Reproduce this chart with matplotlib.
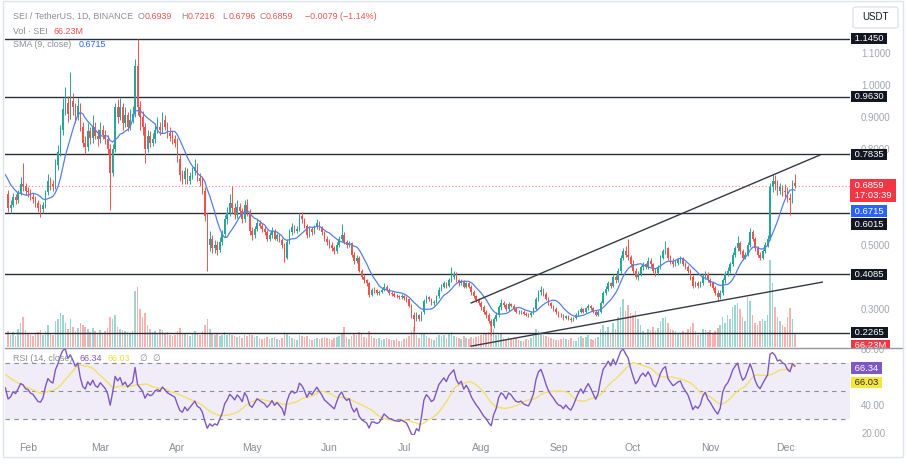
import numpy as np
import pandas as pd
import matplotlib
matplotlib.use("Agg")
import matplotlib.pyplot as plt
import matplotlib.dates as mdates
from matplotlib.patches import Rectangle, FancyBboxPatch
from matplotlib.lines import Line2D
from matplotlib.transforms import Bbox

plt.rcParams['font.family'] = ['Liberation Sans', 'DejaVu Sans']

# ------------------------------------------------------------------ data
history_start = '2023-12-27'
closes_history = [0.72, 0.75, 0.80, 0.84, 0.82, 0.86, 0.70, 0.72, 0.69, 0.66, 0.62, 0.58, 0.62, 0.66,
                  0.68, 0.71, 0.72, 0.74, 0.73, 0.75, 0.76, 0.74, 0.72, 0.73, 0.70, 0.71, 0.69, 0.67]

chart_start = '2024-01-24'
first_open = 0.660

close_jan = [0.615, 0.625, 0.650, 0.640, 0.662, 0.690, 0.685, 0.668]
high_jan = [0.672, 0.640, 0.662, 0.658, 0.672, 0.712, 0.756, 0.695]
low_jan = [0.602, 0.600, 0.618, 0.628, 0.632, 0.655, 0.668, 0.655]
vol_jan = [80, 60, 75, 55, 90, 120, 150, 85]

close_feb = [0.665, 0.650, 0.645, 0.630, 0.615, 0.612, 0.625, 0.665, 0.700, 0.690, 0.685, 0.750, 0.790, 0.860,
             0.925, 0.945, 0.910, 0.950, 0.930, 0.905, 0.935, 0.870, 0.820, 0.805, 0.855, 0.835, 0.870, 0.840, 0.830]
high_feb = [0.682, 0.675, 0.662, 0.652, 0.640, 0.628, 0.635, 0.672, 0.722, 0.712, 0.702, 0.770, 0.812, 0.875,
            0.960, 0.995, 0.965, 1.040, 0.975, 0.945, 0.960, 0.945, 0.885, 0.840, 0.880, 0.870, 0.905, 0.885, 0.862]
low_feb = [0.650, 0.640, 0.632, 0.618, 0.602, 0.588, 0.600, 0.615, 0.655, 0.672, 0.668, 0.675, 0.735, 0.778,
           0.845, 0.905, 0.885, 0.895, 0.905, 0.880, 0.890, 0.855, 0.805, 0.785, 0.795, 0.815, 0.820, 0.830, 0.810]
vol_feb = [70, 60, 55, 65, 75, 85, 60, 80, 110, 70, 60, 130, 140, 170, 160, 120, 90, 140, 100, 80, 95, 120,
           110, 100, 90, 75, 95, 80, 70]

close_mar = [0.860, 0.845, 0.830, 0.800, 0.725, 0.800, 0.930, 0.900, 0.930, 0.880, 0.905, 0.870, 0.890, 0.910,
             1.060, 0.930, 0.900, 0.870, 0.800, 0.840, 0.820, 0.830, 0.860, 0.870, 0.860, 0.890, 0.870, 0.850,
             0.840, 0.830, 0.820]
high_mar = [0.885, 0.875, 0.860, 0.845, 0.815, 0.815, 0.945, 0.955, 0.960, 0.945, 0.930, 0.915, 0.925, 0.935,
            1.080, 1.145, 0.950, 0.920, 0.880, 0.860, 0.855, 0.850, 0.875, 0.900, 0.885, 0.915, 0.905, 0.885,
            0.870, 0.855, 0.845]
low_mar = [0.820, 0.830, 0.815, 0.785, 0.610, 0.715, 0.790, 0.880, 0.890, 0.860, 0.870, 0.855, 0.860, 0.880,
           0.900, 0.905, 0.860, 0.845, 0.756, 0.790, 0.805, 0.810, 0.820, 0.850, 0.845, 0.850, 0.860, 0.835,
           0.825, 0.815, 0.805]
vol_mar = [85, 70, 80, 95, 150, 140, 160, 100, 90, 85, 80, 75, 70, 80, 280, 300, 190, 150, 170, 110, 90, 75,
           80, 70, 90, 85, 70, 75, 60, 55, 60]

close_apr = [0.770, 0.720, 0.705, 0.730, 0.700, 0.715, 0.730, 0.745, 0.710, 0.700, 0.670, 0.590, 0.500, 0.520,
             0.490, 0.500, 0.485, 0.510, 0.535, 0.580, 0.600, 0.630, 0.615, 0.595, 0.620, 0.605, 0.580, 0.625,
             0.600, 0.545]
high_apr = [0.835, 0.785, 0.735, 0.745, 0.742, 0.728, 0.745, 0.768, 0.755, 0.725, 0.712, 0.680, 0.600, 0.545,
            0.530, 0.515, 0.512, 0.525, 0.548, 0.595, 0.620, 0.660, 0.685, 0.632, 0.640, 0.630, 0.615, 0.640,
            0.645, 0.612]
low_apr = [0.760, 0.700, 0.690, 0.690, 0.690, 0.692, 0.705, 0.718, 0.700, 0.685, 0.660, 0.575, 0.420, 0.480,
           0.475, 0.475, 0.470, 0.478, 0.500, 0.525, 0.565, 0.590, 0.600, 0.580, 0.585, 0.595, 0.570, 0.572,
           0.590, 0.530]
vol_apr = [80, 95, 70, 65, 60, 55, 70, 80, 65, 60, 80, 110, 140, 90, 70, 60, 65, 55, 60, 75, 60, 65, 60, 55,
           50, 55, 45, 60, 55, 70]

close_may = [0.530, 0.550, 0.570, 0.560, 0.550, 0.540, 0.520, 0.530, 0.545, 0.520, 0.530, 0.515, 0.500, 0.460,
             0.510, 0.540, 0.555, 0.545, 0.550, 0.590, 0.580, 0.560, 0.530, 0.550, 0.540, 0.555, 0.570, 0.555,
             0.540, 0.520, 0.510]
high_may = [0.555, 0.560, 0.582, 0.578, 0.568, 0.558, 0.548, 0.540, 0.555, 0.550, 0.538, 0.535, 0.522, 0.505,
            0.520, 0.550, 0.568, 0.562, 0.560, 0.600, 0.602, 0.585, 0.565, 0.558, 0.555, 0.562, 0.582, 0.575,
            0.560, 0.545, 0.528]
low_may = [0.515, 0.522, 0.545, 0.552, 0.542, 0.532, 0.512, 0.512, 0.522, 0.515, 0.512, 0.508, 0.492, 0.448,
           0.455, 0.502, 0.530, 0.538, 0.538, 0.545, 0.570, 0.552, 0.522, 0.525, 0.532, 0.535, 0.550, 0.548,
           0.532, 0.512, 0.500]
vol_may = [60, 50, 55, 45, 40, 45, 50, 40, 45, 50, 40, 35, 45, 75, 70, 55, 45, 40, 35, 60, 55, 50, 55, 40,
           35, 40, 45, 40, 45, 50, 45]

close_jun = [0.500, 0.490, 0.480, 0.500, 0.520, 0.530, 0.510, 0.500, 0.505, 0.470, 0.450, 0.460, 0.420, 0.400,
             0.390, 0.380, 0.345, 0.360, 0.358, 0.350, 0.352, 0.360, 0.370, 0.360, 0.350, 0.348, 0.342, 0.340,
             0.338, 0.340]
high_jun = [0.518, 0.508, 0.498, 0.508, 0.528, 0.565, 0.540, 0.515, 0.512, 0.510, 0.478, 0.468, 0.465, 0.425,
            0.408, 0.395, 0.385, 0.365, 0.368, 0.362, 0.358, 0.365, 0.380, 0.375, 0.365, 0.356, 0.352, 0.348,
            0.345, 0.346]
low_jun = [0.492, 0.482, 0.472, 0.475, 0.495, 0.512, 0.502, 0.492, 0.495, 0.462, 0.442, 0.445, 0.415, 0.395,
           0.382, 0.372, 0.338, 0.340, 0.350, 0.344, 0.345, 0.350, 0.356, 0.355, 0.345, 0.342, 0.336, 0.334,
           0.332, 0.332]
vol_jun = [40, 35, 45, 50, 55, 65, 100, 50, 40, 55, 70, 60, 75, 70, 50, 45, 80, 55, 45, 40, 45, 35, 40, 45,
           40, 35, 35, 40, 30, 30]

close_jul = [0.335, 0.330, 0.310, 0.280, 0.270, 0.280, 0.268, 0.290, 0.325, 0.338, 0.330, 0.318, 0.322, 0.340,
             0.360, 0.370, 0.380, 0.372, 0.390, 0.400, 0.410, 0.390, 0.380, 0.388, 0.370, 0.380, 0.370, 0.352,
             0.340, 0.328, 0.318]
high_jul = [0.345, 0.340, 0.335, 0.315, 0.290, 0.292, 0.285, 0.295, 0.330, 0.345, 0.342, 0.335, 0.328, 0.345,
            0.368, 0.378, 0.388, 0.385, 0.398, 0.430, 0.420, 0.415, 0.395, 0.395, 0.392, 0.385, 0.385, 0.375,
            0.358, 0.345, 0.335]
low_jul = [0.328, 0.322, 0.305, 0.272, 0.230, 0.262, 0.262, 0.262, 0.285, 0.318, 0.325, 0.312, 0.312, 0.318,
           0.335, 0.355, 0.365, 0.365, 0.368, 0.385, 0.395, 0.385, 0.372, 0.375, 0.365, 0.365, 0.365, 0.345,
           0.335, 0.322, 0.312]
vol_jul = [40, 45, 55, 80, 100, 60, 45, 65, 70, 55, 45, 40, 35, 50, 60, 55, 60, 45, 65, 75, 55, 50, 45, 40,
           55, 45, 40, 50, 45, 50, 55]

close_aug = [0.305, 0.290, 0.280, 0.262, 0.248, 0.268, 0.280, 0.305, 0.318, 0.312, 0.300, 0.315, 0.310, 0.300,
             0.292, 0.290, 0.292, 0.285, 0.282, 0.280, 0.288, 0.300, 0.330, 0.352, 0.360, 0.348, 0.332, 0.318,
             0.308, 0.300, 0.290]
high_aug = [0.325, 0.312, 0.298, 0.288, 0.270, 0.275, 0.292, 0.312, 0.330, 0.325, 0.318, 0.322, 0.320, 0.315,
            0.305, 0.298, 0.298, 0.296, 0.290, 0.288, 0.295, 0.305, 0.338, 0.360, 0.372, 0.365, 0.352, 0.338,
            0.322, 0.312, 0.305]
low_aug = [0.298, 0.285, 0.272, 0.255, 0.220, 0.242, 0.262, 0.275, 0.298, 0.305, 0.295, 0.295, 0.305, 0.295,
           0.288, 0.284, 0.285, 0.280, 0.277, 0.275, 0.276, 0.285, 0.296, 0.325, 0.345, 0.342, 0.328, 0.312,
           0.302, 0.295, 0.285]
vol_aug = [60, 70, 65, 75, 110, 90, 60, 70, 65, 45, 40, 50, 45, 40, 45, 35, 30, 30, 40, 35, 45, 55, 90, 80,
           65, 60, 55, 50, 45, 40, 35]

close_sep = [0.282, 0.280, 0.272, 0.278, 0.270, 0.265, 0.272, 0.282, 0.292, 0.300, 0.292, 0.302, 0.310, 0.302,
             0.292, 0.282, 0.292, 0.320, 0.350, 0.362, 0.380, 0.372, 0.400, 0.390, 0.420, 0.460, 0.480, 0.470,
             0.462, 0.440]
high_sep = [0.295, 0.288, 0.284, 0.282, 0.282, 0.275, 0.276, 0.286, 0.296, 0.305, 0.304, 0.306, 0.315, 0.314,
            0.305, 0.296, 0.296, 0.325, 0.356, 0.372, 0.386, 0.385, 0.408, 0.405, 0.428, 0.468, 0.492, 0.498,
            0.520, 0.468]
low_sep = [0.276, 0.274, 0.266, 0.268, 0.265, 0.260, 0.262, 0.268, 0.278, 0.288, 0.288, 0.288, 0.298, 0.298,
           0.288, 0.278, 0.278, 0.288, 0.315, 0.345, 0.355, 0.365, 0.368, 0.382, 0.385, 0.412, 0.452, 0.462,
           0.452, 0.432]
vol_sep = [35, 40, 45, 40, 35, 45, 30, 30, 50, 55, 45, 50, 60, 40, 35, 45, 50, 90, 110, 80, 100, 70, 120, 90,
           150, 200, 240, 180, 210, 170]

close_oct = [0.420, 0.400, 0.410, 0.430, 0.440, 0.432, 0.450, 0.440, 0.420, 0.412, 0.430, 0.460, 0.480, 0.490,
             0.460, 0.450, 0.440, 0.445, 0.452, 0.455, 0.440, 0.430, 0.420, 0.400, 0.372, 0.380, 0.372, 0.380,
             0.400, 0.410, 0.390]
high_oct = [0.452, 0.428, 0.418, 0.438, 0.448, 0.445, 0.462, 0.458, 0.445, 0.428, 0.438, 0.468, 0.488, 0.512,
            0.495, 0.468, 0.458, 0.452, 0.460, 0.465, 0.462, 0.448, 0.438, 0.425, 0.405, 0.388, 0.386, 0.388,
            0.408, 0.418, 0.415]
low_oct = [0.412, 0.395, 0.392, 0.402, 0.422, 0.425, 0.425, 0.432, 0.412, 0.402, 0.405, 0.425, 0.455, 0.472,
           0.452, 0.442, 0.432, 0.435, 0.438, 0.445, 0.435, 0.425, 0.412, 0.392, 0.365, 0.368, 0.365, 0.368,
           0.375, 0.395, 0.384]
vol_oct = [160, 180, 140, 110, 80, 70, 90, 85, 100, 80, 95, 130, 145, 150, 120, 90, 85, 80, 70, 65, 80, 75,
           90, 100, 120, 80, 60, 70, 90, 85, 75]

close_nov = [0.380, 0.365, 0.350, 0.338, 0.350, 0.390, 0.410, 0.420, 0.440, 0.470, 0.490, 0.505, 0.480, 0.460,
             0.470, 0.500, 0.540, 0.520, 0.490, 0.470, 0.460, 0.480, 0.500, 0.520, 0.680, 0.700, 0.690, 0.670,
             0.680, 0.670]
high_nov = [0.398, 0.388, 0.372, 0.358, 0.358, 0.398, 0.418, 0.430, 0.448, 0.478, 0.498, 0.528, 0.512, 0.488,
            0.478, 0.508, 0.552, 0.548, 0.525, 0.498, 0.478, 0.488, 0.508, 0.530, 0.695, 0.722, 0.718, 0.702,
            0.695, 0.688]
low_nov = [0.372, 0.358, 0.345, 0.325, 0.332, 0.345, 0.382, 0.402, 0.412, 0.435, 0.462, 0.482, 0.472, 0.452,
           0.455, 0.465, 0.495, 0.512, 0.482, 0.462, 0.452, 0.455, 0.475, 0.495, 0.515, 0.665, 0.672, 0.655,
           0.660, 0.652]
vol_nov = [85, 70, 80, 95, 110, 150, 120, 160, 140, 200, 210, 220, 190, 150, 130, 250, 230, 160, 120, 110,
           130, 140, 130, 160, 435, 320, 200, 150, 130, 110]

close_dec = [0.665, 0.648, 0.640, 0.6939, 0.6859]
high_dec = [0.690, 0.680, 0.662, 0.702, 0.7216]
low_dec = [0.650, 0.635, 0.595, 0.632, 0.6796]
vol_dec = [100, 150, 195, 140, 66.23]

levels = [1.1450, 0.9630, 0.7835, 0.6015, 0.4085, 0.2265]
upper_trend_dates = ['2024-07-28', '2024-12-15']
upper_trend_prices = [0.319, 0.781]
lower_trend_dates = ['2024-07-28', '2024-12-16']
lower_trend_prices = [0.184, 0.384]

last_price = 0.6859
sma_last = 0.6715
rsi_last = 66.34
rsi_ma_last = 66.03
header_symbol = "SEI / TetherUS, 1D, BINANCE"
header_ohlc = [("O", "0.6939"), ("H", "0.7216"), ("L", "0.6796"), ("C", "0.6859")]
header_change = "\u22120.0079 (\u22121.14%)"
vol_label = "66.23M"
countdown = "17:03:39"
price_ticks = [1.1, 1.0, 0.9, 0.8, 0.5, 0.3]
rsi_ticks = [80, 40, 20]

# ------------------------------------------------------------------ assemble
closes = np.array(close_jan + close_feb + close_mar + close_apr + close_may + close_jun + close_jul +
                  close_aug + close_sep + close_oct + close_nov + close_dec)
highs = np.array(high_jan + high_feb + high_mar + high_apr + high_may + high_jun + high_jul +
                 high_aug + high_sep + high_oct + high_nov + high_dec)
lows = np.array(low_jan + low_feb + low_mar + low_apr + low_may + low_jun + low_jul +
                low_aug + low_sep + low_oct + low_nov + low_dec)
vols = np.array(vol_jan + vol_feb + vol_mar + vol_apr + vol_may + vol_jun + vol_jul +
                vol_aug + vol_sep + vol_oct + vol_nov + vol_dec, dtype=float)
opens = np.concatenate([[first_open], closes[:-1]])

dates = pd.date_range(chart_start, periods=len(closes), freq='D')
xd = mdates.date2num(dates.to_pydatetime())

all_closes = pd.Series(list(closes_history) + list(closes))
all_dates = pd.date_range(history_start, periods=len(all_closes), freq='D')
xall = mdates.date2num(all_dates.to_pydatetime())
sma9 = all_closes.rolling(9).mean()
delta = all_closes.diff()
gain = delta.clip(lower=0)
loss = -delta.clip(upper=0)
avg_gain = gain.ewm(alpha=1 / 14, adjust=False).mean()
avg_loss = loss.ewm(alpha=1 / 14, adjust=False).mean()
rsi = 100 - 100 / (1 + avg_gain / avg_loss)
rsi_ma = rsi.rolling(14).mean()

# ------------------------------------------------------------------ figure
W, H = 906, 467
fig = plt.figure(figsize=(W / 100, H / 100), dpi=100)
fig.patch.set_facecolor('white')


def rect(l, t, r, b):
    return [l / W, 1 - b / H, (r - l) / W, (b - t) / H]


def fx(px):
    return px / W


def fy(py):
    return 1 - py / H


GREEN = '#26a69a'
RED = '#ef5350'
GREY_TXT = '#8a8d96'
AXIS_TXT = '#a3a6af'
HFS = 6.4

axv = fig.add_axes(rect(5, 2, 850, 347))
ax = fig.add_axes(rect(5, 2, 850, 347), sharex=axv)
axr = fig.add_axes(rect(5, 348, 850, 435), sharex=axv)
axv.set_zorder(0)
ax.set_zorder(1)
axr.set_zorder(3)
ax.patch.set_visible(False)

feb1 = mdates.date2num(pd.Timestamp('2024-02-01').to_pydatetime())
px_per_day = 2.49
axv.set_xlim(feb1 - 23 / px_per_day, feb1 + 822 / px_per_day)

for a in (ax, axv, axr):
    for s in a.spines.values():
        s.set_visible(False)

# volume
up = closes >= opens
col = np.where(up, GREEN, RED)
axv.bar(xd, vols, width=0.62, color=col, alpha=0.45, linewidth=0)
axv.set_ylim(0, 1720)
axv.set_yticks([])
axv.tick_params(bottom=False, labelbottom=False)

# price pane
ax.set_ylim(0.18125, 1.259375)
for lv in levels:
    ax.axhline(lv, color='#2a2e39', lw=1.0, zorder=1)
ax.axhline(last_price, color=RED, lw=0.8, ls=(0, (1, 2)), alpha=0.7, zorder=1)

ax.vlines(xd, lows, highs, colors=col, lw=0.7, zorder=3)
body = np.maximum(np.abs(closes - opens), 0.002)
ax.bar(xd, body, bottom=np.minimum(opens, closes), width=0.62, color=col, linewidth=0, zorder=4)

ax.plot(xall, sma9, color='#5580e0', lw=0.9, zorder=5)

ut = mdates.date2num(pd.to_datetime(upper_trend_dates).to_pydatetime())
lt = mdates.date2num(pd.to_datetime(lower_trend_dates).to_pydatetime())
ax.plot(ut, upper_trend_prices, color='#363a45', lw=1.0, zorder=6, clip_on=False)
ax.plot(lt, lower_trend_prices, color='#363a45', lw=1.0, zorder=6, clip_on=False)

ax.yaxis.tick_right()
ax.set_yticks(price_ticks)
ax.set_yticklabels([f"{v:.4f}" for v in price_ticks])
ax.tick_params(axis='y', length=0, pad=8, labelsize=7, labelcolor=AXIS_TXT)
ax.tick_params(axis='x', bottom=False, labelbottom=False)

BFS = 6.8
box_kw = dict(xycoords=('axes fraction', 'data'), textcoords='offset pixels', ha='left', va='center',
              fontsize=BFS, annotation_clip=False, zorder=10)
BPAD = 'square,pad=0.12'
for lv in levels:
    off = -11.5 if abs(lv - 0.6015) < 1e-6 else 0
    ax.annotate(f" {lv:.4f} ", xy=(1, lv), xytext=(2, off), color='white',
                bbox=dict(boxstyle=BPAD, fc='#131722', ec='none'), **box_kw)
ax.annotate(f" {last_price:.4f}  \n {countdown} ", xy=(1, last_price), xytext=(2, -5), color='white',
            linespacing=1.15, bbox=dict(boxstyle='square,pad=0.2', fc='#f23645', ec='none'), **box_kw)
ax.annotate(f" {sma_last:.4f} ", xy=(1, sma_last), xytext=(2, -21), color='white',
            bbox=dict(boxstyle=BPAD, fc='#2962ff', ec='none'), **box_kw)
vtxt = axv.annotate(f" {vol_label} ", xy=(1, vols[-1]), xytext=(2, -12), color='white',
                    bbox=dict(boxstyle=BPAD, fc='#f23645', ec='none'), **box_kw)
vtxt.set_clip_box(Bbox.from_extents(850, fy(347.5) * H, 906, H))
vtxt.set_clip_on(True)

# RSI pane
axr.set_ylim(80 - 86 / 1.4, 80 + 1 / 1.4)
axr.axhspan(30, 70, color='#7e57c2', alpha=0.1, lw=0)
for lv in (70, 50, 30):
    axr.axhline(lv, color='#8a8d96', lw=0.8, ls=(0, (4, 4)))
axr.plot(xall, rsi_ma, color='#f3df6c', lw=1.0)
axr.plot(xall, rsi, color='#7e57c2', lw=1.0)
axr.yaxis.tick_right()
axr.set_yticks(rsi_ticks)
axr.set_yticklabels([f"{v:.2f}" for v in rsi_ticks])
axr.tick_params(axis='y', length=0, pad=8, labelsize=7, labelcolor=AXIS_TXT)
axr.xaxis.set_major_locator(mdates.MonthLocator())
axr.xaxis.set_major_formatter(mdates.DateFormatter('%b'))
axr.tick_params(axis='x', length=0, pad=6, labelsize=7.5, labelcolor=GREY_TXT)
axr.annotate(f" {rsi_last:.2f} ", xy=(1, rsi_last), xytext=(2, 0), color='white',
             bbox=dict(boxstyle=BPAD, fc='#7e57c2', ec='none'), **box_kw)
axr.annotate(f" {rsi_ma_last:.2f} ", xy=(1, rsi_ma_last), xytext=(2, -14), color='#2a2e39',
             bbox=dict(boxstyle=BPAD, fc='#f5e63c', ec='none'), **box_kw)

# frame and separators
fig.add_artist(Line2D([fx(5), fx(903)], [fy(347.5), fy(347.5)], color='#9598a1', lw=1.0, zorder=20))
fig.add_artist(Rectangle((fx(3), fy(457)), fx(903) - fx(3), fy(0.5) - fy(457), transform=fig.transFigure,
                         fill=False, ec='#e0e3eb', lw=1.0, zorder=20))

# USDT button
fig.add_artist(FancyBboxPatch((fx(853), fy(28)), fx(898) - fx(853), fy(7) - fy(28),
                              boxstyle='round,pad=0,rounding_size=0.004', transform=fig.transFigure,
                              fc='white', ec='#e0e3eb', lw=1.0, zorder=20))
fig.text(fx(875.5), fy(17.5), "USDT", ha='center', va='center', fontsize=7, color='#131722', zorder=21)

# legends (top-left)
fig.text(fx(13), fy(16.5), header_symbol, ha='left', va='center', fontsize=HFS, color=GREY_TXT, zorder=21)
hx = [138, 181, 222, 259]
for (lab, val), px in zip(header_ohlc, hx):
    fig.text(fx(px), fy(16.5), lab, ha='left', va='center', fontsize=HFS, color=GREY_TXT, zorder=21)
    fig.text(fx(px + 6.5), fy(16.5), val, ha='left', va='center', fontsize=HFS, color=RED, zorder=21)
fig.text(fx(305), fy(16.5), header_change, ha='left', va='center', fontsize=HFS, color=RED, zorder=21)
fig.text(fx(13), fy(31.5), "Vol \u00b7 SEI", ha='left', va='center', fontsize=HFS, color=GREY_TXT, zorder=21)
fig.text(fx(53), fy(31.5), vol_label, ha='left', va='center', fontsize=HFS, color=RED, zorder=21)
fig.text(fx(13), fy(44.5), "SMA (9, close)", ha='left', va='center', fontsize=HFS, color=GREY_TXT, zorder=21)
fig.text(fx(79), fy(44.5), f"{sma_last:.4f}", ha='left', va='center', fontsize=HFS, color='#2962ff', zorder=21)

fig.text(fx(13), fy(358.5), "RSI (14, close)", ha='left', va='center', fontsize=HFS, color=GREY_TXT, zorder=21)
fig.text(fx(80), fy(358.5), f"{rsi_last:.2f}", ha='left', va='center', fontsize=HFS, color='#7e57c2', zorder=21)
fig.text(fx(108), fy(358.5), f"{rsi_ma_last:.2f}", ha='left', va='center', fontsize=HFS, color='#f0dc3c',
         zorder=21)
fig.text(fx(139), fy(358.5), "\u2205", ha='left', va='center', fontsize=HFS, color=GREY_TXT, zorder=21)
fig.text(fx(152), fy(358.5), "\u2205", ha='left', va='center', fontsize=HFS, color=GREY_TXT, zorder=21)

fig.savefig('out.png', dpi=100, facecolor='white')
